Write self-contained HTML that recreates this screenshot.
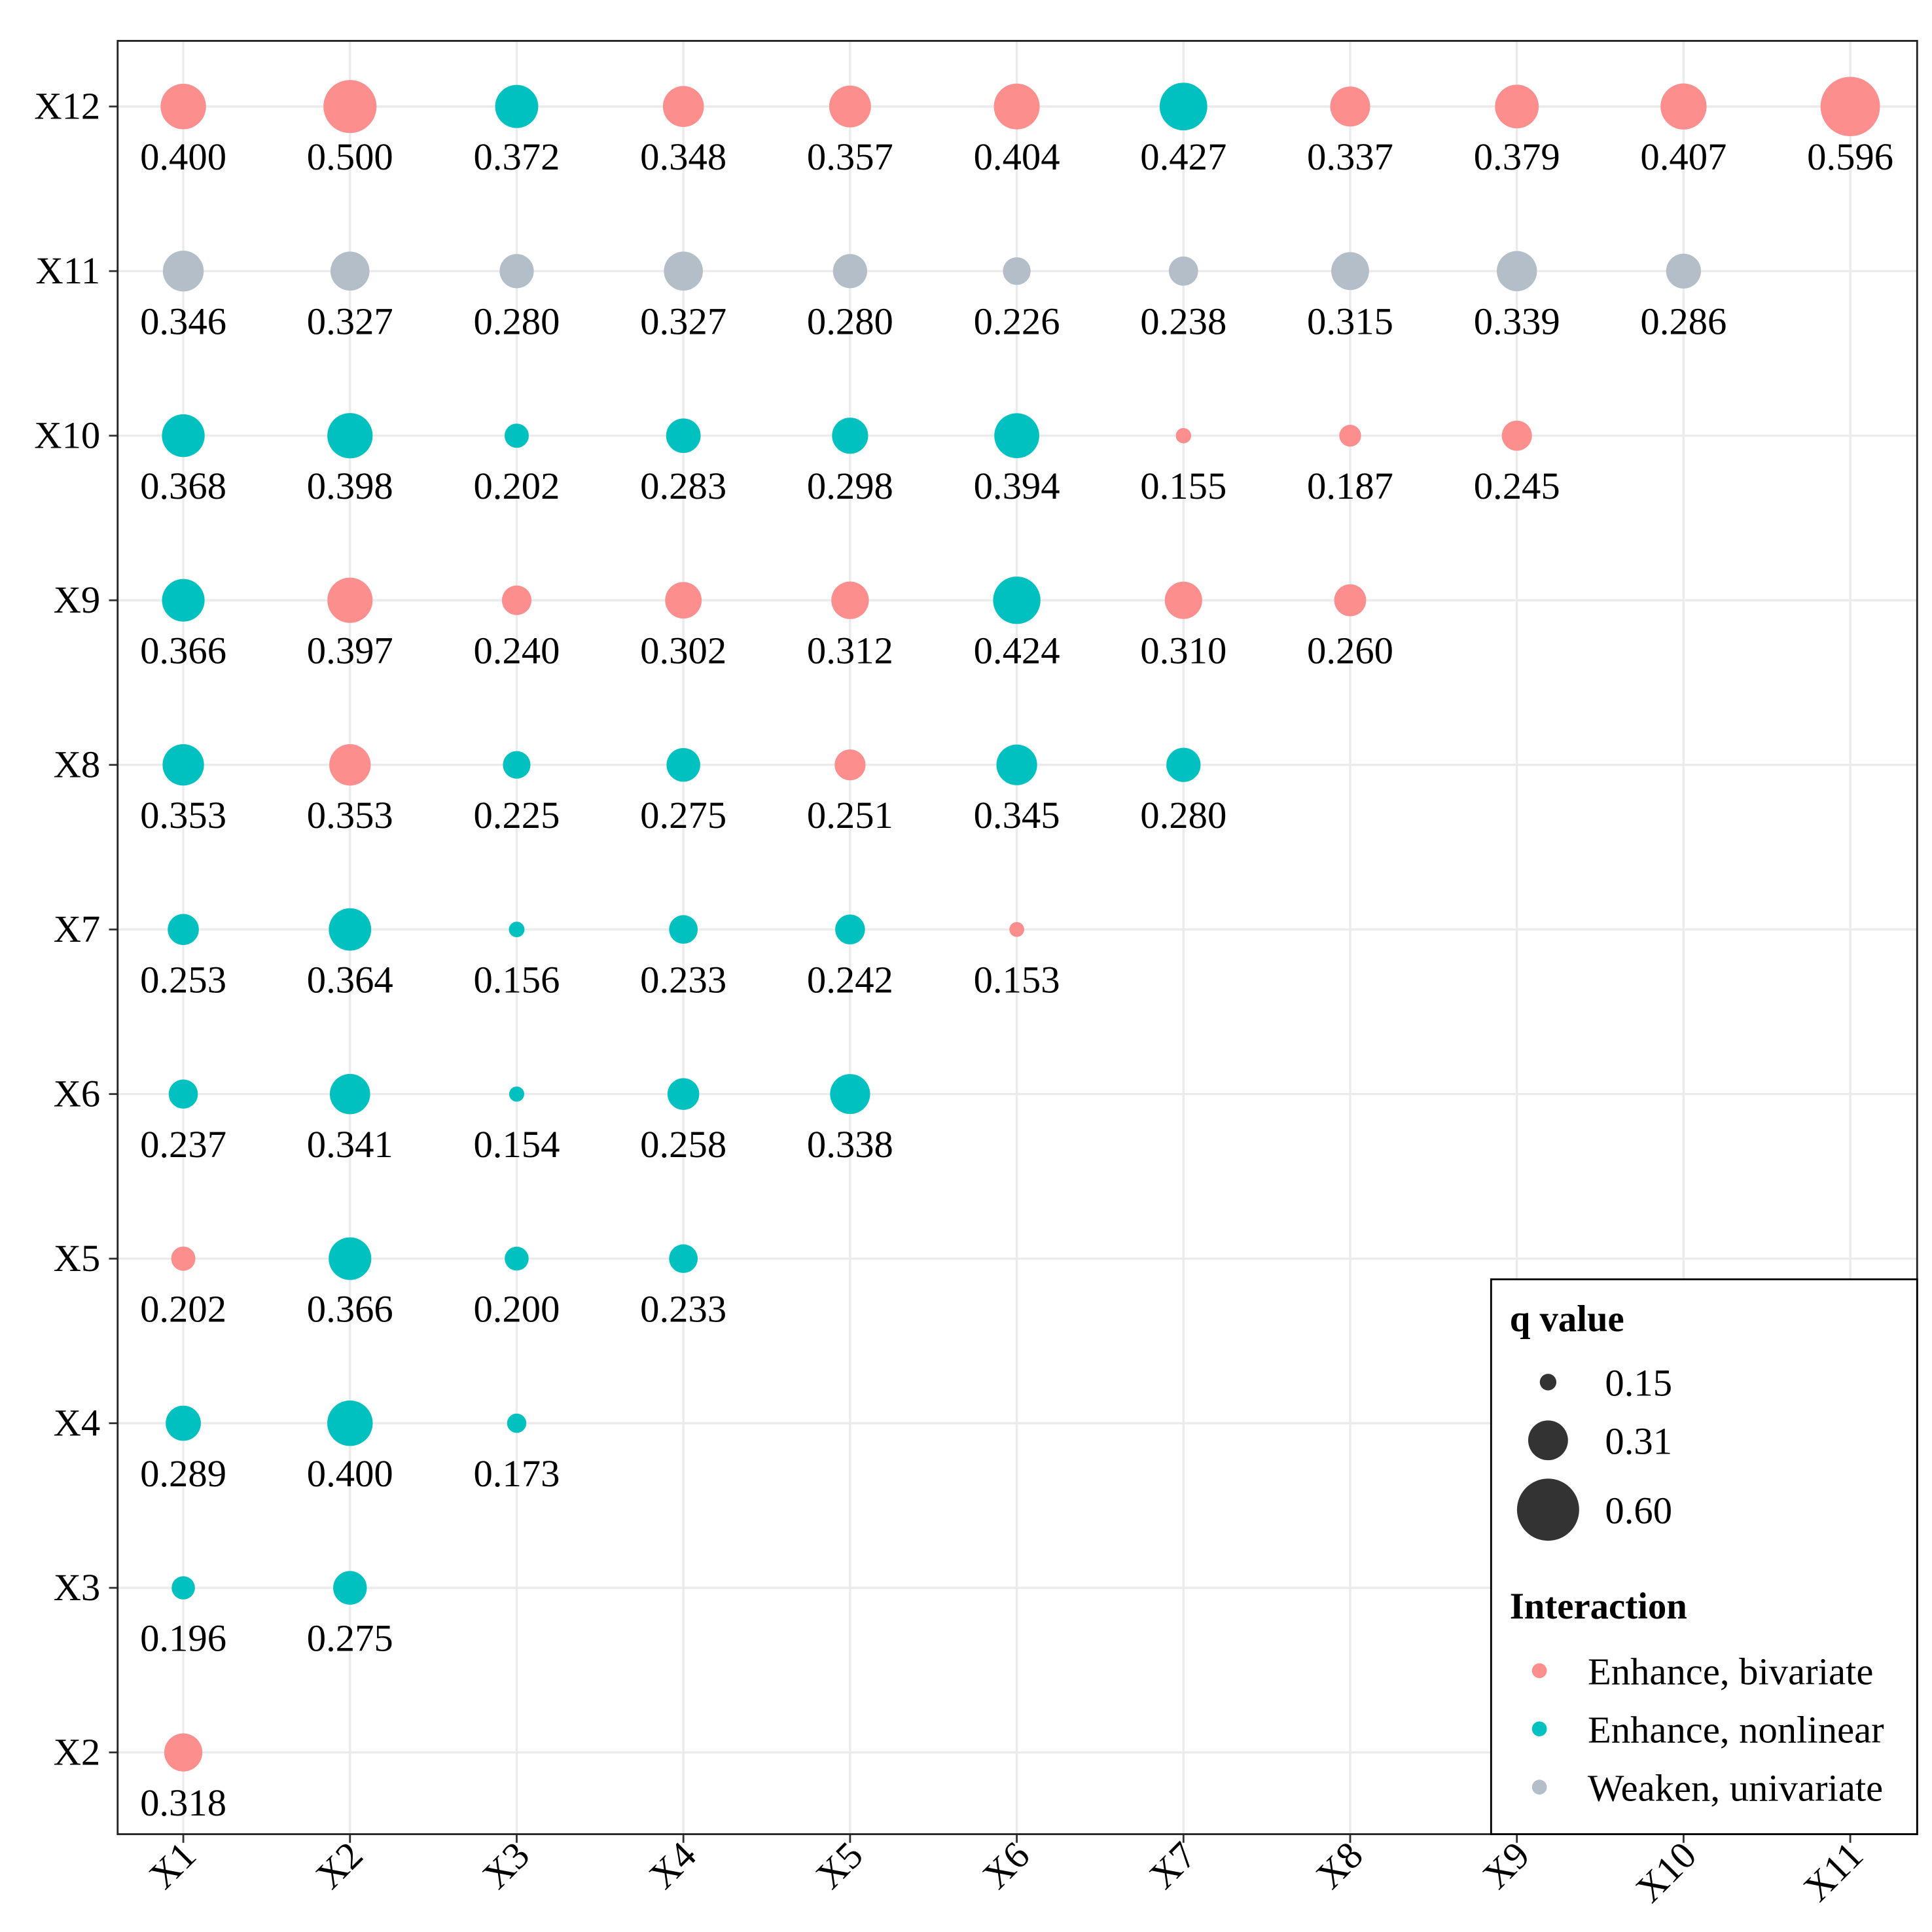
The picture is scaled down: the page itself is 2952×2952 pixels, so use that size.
<!DOCTYPE html>
<html><head><meta charset="utf-8"><style>html,body{margin:0;padding:0;background:#fff}svg{display:block}</style></head>
<body>
<svg id="chart" width="2952" height="2952" viewBox="0 0 1560 1560" xmlns="http://www.w3.org/2000/svg" font-family="'Liberation Serif', serif">
<rect x="0" y="0" width="1560" height="1560" fill="#fff"/>
<g id="grid"></g>
<g id="marks"></g>
<g id="axes"></g>
<rect x="95" y="33" width="1453" height="1448" fill="none" stroke="#222" stroke-width="1.5"/>
<g id="legend"></g>
</svg>
<script>
const xCategories = ["X1","X2","X3","X4","X5","X6","X7","X8","X9","X10","X11"];
const yCategories = ["X2","X3","X4","X5","X6","X7","X8","X9","X10","X11","X12"];
const rowX12 = [0.400,0.500,0.372,0.348,0.357,0.404,0.427,0.337,0.379,0.407,0.596];
const typeX12 = ["B","B","N","B","B","B","N","B","B","B","B"];
const rowX11 = [0.346,0.327,0.280,0.327,0.280,0.226,0.238,0.315,0.339,0.286];
const typeX11 = ["W","W","W","W","W","W","W","W","W","W"];
const rowX10 = [0.368,0.398,0.202,0.283,0.298,0.394,0.155,0.187,0.245];
const typeX10 = ["N","N","N","N","N","N","B","B","B"];
const rowX9 = [0.366,0.397,0.240,0.302,0.312,0.424,0.310,0.260];
const typeX9 = ["N","B","B","B","B","N","B","B"];
const rowX8 = [0.353,0.353,0.225,0.275,0.251,0.345,0.280];
const typeX8 = ["N","B","N","N","B","N","N"];
const rowX7 = [0.253,0.364,0.156,0.233,0.242,0.153];
const typeX7 = ["N","N","N","N","N","B"];
const rowX6 = [0.237,0.341,0.154,0.258,0.338];
const typeX6 = ["N","N","N","N","N"];
const rowX5 = [0.202,0.366,0.200,0.233];
const typeX5 = ["B","N","N","N"];
const rowX4 = [0.289,0.400,0.173];
const typeX4 = ["N","N","N"];
const rowX3 = [0.196,0.275];
const typeX3 = ["N","N"];
const rowX2 = [0.318];
const typeX2 = ["B"];
const sizeBreaks = [0.15,0.31,0.60];
const sizeLabels = ["0.15","0.31","0.60"];
const legendTypes = ["B","N","W"];
const legendLabels = ["Enhance, bivariate","Enhance, nonlinear","Weaken, univariate"];

const rows = {X12:[rowX12,typeX12],X11:[rowX11,typeX11],X10:[rowX10,typeX10],X9:[rowX9,typeX9],X8:[rowX8,typeX8],X7:[rowX7,typeX7],X6:[rowX6,typeX6],X5:[rowX5,typeX5],X4:[rowX4,typeX4],X3:[rowX3,typeX3],X2:[rowX2,typeX2]};
const colors = {B:"#FC8E8E",N:"#00C1BF",W:"#B3BEC8"};
const NS="http://www.w3.org/2000/svg";
function xPos(i){return 148+i*134.6;}
function yPos(j){return 1415-j*132.9;}
function rad(q){return Math.sqrt(Math.max(4,1219*q-150.5));}
function mk(tag,attrs,parent){const e=document.createElementNS(NS,tag);for(const k in attrs)e.setAttribute(k,attrs[k]);parent.appendChild(e);return e;}
const grid=document.getElementById('grid'),marks=document.getElementById('marks'),axes=document.getElementById('axes'),legend=document.getElementById('legend');
xCategories.forEach((c,i)=>{
  const l=mk('line',{x1:xPos(i),x2:xPos(i),y1:33,y2:1481,stroke:'#EBEBEB','stroke-width':1.8},grid);
  
  
  const t=mk('line',{x1:xPos(i),x2:xPos(i),y1:1481,y2:1488,stroke:'#333','stroke-width':1.5},axes);
  
  
  const tx=mk('text',{x:xPos(i)+12,y:1500,'font-size':31,'text-anchor':'end',transform:`rotate(-45 ${xPos(i)+12} 1500)`},axes);
  tx.textContent=c;
  
  
});
yCategories.forEach((c,j)=>{
  const l=mk('line',{x1:95,x2:1548,y1:yPos(j),y2:yPos(j),stroke:'#EBEBEB','stroke-width':1.8},grid);
  
  
  const t=mk('line',{x1:88,x2:95,y1:yPos(j),y2:yPos(j),stroke:'#333','stroke-width':1.5},axes);
  
  
  const tx=mk('text',{x:81,y:yPos(j)+10,'font-size':31,'text-anchor':'end'},axes);
  tx.textContent=c;
  
  
  const [vals,types]=rows[c];
  vals.forEach((q,i)=>{
    const ci=mk('circle',{cx:xPos(i),cy:yPos(j),r:rad(q),fill:colors[types[i]]},marks);
    
    
    const lb=mk('text',{x:xPos(i),y:yPos(j)+51,'font-size':31,'text-anchor':'middle'},marks);
    lb.textContent=q.toFixed(3);
    
    
  });
});
const box=mk('rect',{x:1204,y:1033,width:344,height:448,fill:'#fff',stroke:'#000','stroke-width':1.5},legend);


const t1=mk('text',{x:1219,y:1075,'font-size':30,'font-weight':'bold'},legend);
t1.textContent='q value';


const sy=[1116,1163,1219];
sizeBreaks.forEach((q,k)=>{
  const c=mk('circle',{cx:1250,cy:sy[k],r:rad(q)+1,fill:'#333'},legend);
  
  
  const t=mk('text',{x:1296,y:sy[k]+11,'font-size':31},legend);
  t.textContent=sizeLabels[k];
  
  
});
const t2=mk('text',{x:1219,y:1307,'font-size':30,'font-weight':'bold'},legend);
t2.textContent='Interaction';


const cy=[1349,1396,1443];
legendTypes.forEach((ty,k)=>{
  const c=mk('circle',{cx:1243,cy:cy[k],r:6,fill:colors[ty]},legend);
  
  
  const t=mk('text',{x:1282,y:cy[k]+11,'font-size':31},legend);
  t.textContent=legendLabels[k];
  
  
});
</script>
</body></html>
